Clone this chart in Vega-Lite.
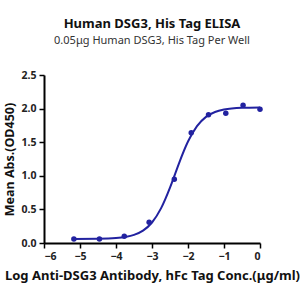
{
  "$schema": "https://vega.github.io/schema/vega-lite/v6.json",
  "width": 216,
  "height": 168,
  "autosize": "none",
  "padding": {"left": 44, "top": 75, "right": 40, "bottom": 57},
  "background": "white",
  "title": {
    "text": "Human DSG3, His Tag ELISA",
    "subtitle": "0.05μg Human DSG3, His Tag Per Well",
    "font": "Noto Sans",
    "fontSize": 13,
    "fontWeight": "bold",
    "color": "#111",
    "subtitleFont": "Noto Sans",
    "subtitleFontSize": 11,
    "subtitleColor": "#333",
    "subtitlePadding": 4,
    "anchor": "middle",
    "offset": 24
  },
  "datasets": {
    "pts": [
      {"x": -5.17, "y": 0.06},
      {"x": -4.46, "y": 0.06},
      {"x": -3.77, "y": 0.1},
      {"x": -3.08, "y": 0.31},
      {"x": -2.38, "y": 0.95},
      {"x": -1.91, "y": 1.64},
      {"x": -1.43, "y": 1.91},
      {"x": -0.95, "y": 1.93},
      {"x": -0.47, "y": 2.05},
      {"x": 0.0, "y": 1.99}
    ],
    "curve": [
      {"x": -5.17, "y": 0.06},
      {"x": -4.5, "y": 0.063},
      {"x": -4.0, "y": 0.074},
      {"x": -3.5, "y": 0.121},
      {"x": -3.25, "y": 0.184},
      {"x": -3.0, "y": 0.305},
      {"x": -2.75, "y": 0.515},
      {"x": -2.5, "y": 0.824},
      {"x": -2.35, "y": 1.04},
      {"x": -2.25, "y": 1.186},
      {"x": -2.0, "y": 1.51},
      {"x": -1.75, "y": 1.74},
      {"x": -1.5, "y": 1.877},
      {"x": -1.25, "y": 1.95},
      {"x": -1.0, "y": 1.986},
      {"x": -0.5, "y": 2.012},
      {"x": 0.0, "y": 2.018}
    ]
  },
  "layer": [
    {
      "data": {"name": "curve"},
      "mark": {"type": "line", "color": "#2222a0", "strokeWidth": 2, "interpolate": "monotone"},
      "encoding": {
        "x": {"field": "x", "type": "quantitative"},
        "y": {"field": "y", "type": "quantitative"}
      }
    },
    {
      "data": {"name": "pts"},
      "mark": {"type": "circle", "color": "#2222a0", "size": 30, "opacity": 1},
      "encoding": {
        "x": {"field": "x", "type": "quantitative"},
        "y": {"field": "y", "type": "quantitative"}
      }
    }
  ],
  "encoding": {
    "x": {
      "field": "x",
      "type": "quantitative",
      "scale": {"domain": [-6, 0], "nice": false, "zero": false},
      "axis": {
        "title": "Log Anti-DSG3 Antibody, hFc Tag Conc.(μg/ml)",
        "values": [-6, -5, -4, -3, -2, -1, 0],
        "format": "d",
        "grid": false,
        "domainColor": "#000",
        "domainWidth": 2,
        "tickColor": "#000",
        "tickWidth": 1.5,
        "tickSize": 5,
        "labelFont": "Noto Sans",
        "labelFontSize": 10.5,
        "labelFontWeight": "bold",
        "labelColor": "#222",
        "labelPadding": 3,
        "titleFont": "Noto Sans",
        "titleFontSize": 13,
        "titleFontWeight": "bold",
        "titleColor": "#111",
        "titlePadding": 8
      }
    },
    "y": {
      "field": "y",
      "type": "quantitative",
      "scale": {"domain": [0, 2.5], "nice": false},
      "axis": {
        "title": "Mean Abs.(OD450)",
        "values": [0, 0.5, 1, 1.5, 2, 2.5],
        "format": ".1f",
        "grid": false,
        "domainColor": "#000",
        "domainWidth": 2,
        "tickColor": "#000",
        "tickWidth": 1.5,
        "tickSize": 5,
        "labelFont": "Noto Sans",
        "labelFontSize": 10.5,
        "labelFontWeight": "bold",
        "labelColor": "#222",
        "labelPadding": 3,
        "titleFont": "Noto Sans",
        "titleFontSize": 12.5,
        "titleFontWeight": "bold",
        "titleColor": "#111",
        "titlePadding": 5
      }
    }
  },
  "config": {"view": {"stroke": null}}
}
